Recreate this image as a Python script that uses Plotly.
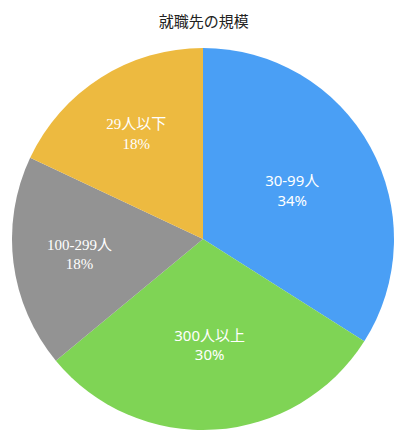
import plotly.graph_objects as go

# 就職先の規模 (時計回り、12時から)
labels = ['30-99人', '300人以上', '100-299人', '29人以下']
values = [34, 30, 18, 18]
colors = ['#4a9ff5', '#7fd455', '#939393', '#edba40']

SANS = 'Noto Sans, Noto Sans CJK JP'
SERIF = 'Liberation Serif, Noto Sans CJK JP'

fig = go.Figure()
fig.add_trace(go.Pie(
    labels=labels,
    values=values,
    sort=False,
    direction='clockwise',
    rotation=0,
    marker=dict(colors=colors, line=dict(width=0)),
    textinfo='label+percent',
    textposition='inside',
    insidetextorientation='horizontal',
    insidetextfont=dict(color='white', size=15,
                        family=[SANS, SANS, SERIF, SERIF]),
    hoverinfo='label+percent',
))

# page body has an 8px margin, so shift everything up/left a bit
fig.update_layout(
    width=408, height=440,
    margin=dict(l=4, r=22, t=40, b=18),
    title=dict(text='就職先の規模', x=0.48, xanchor='center',
               yref='container', y=0.968, yanchor='middle',
               font=dict(family='Noto Sans CJK JP', size=15, color='#222')),
    showlegend=False,
    paper_bgcolor='white',
    uniformtext=dict(minsize=15, mode='show'),
)

fig.write_html("out.html")
